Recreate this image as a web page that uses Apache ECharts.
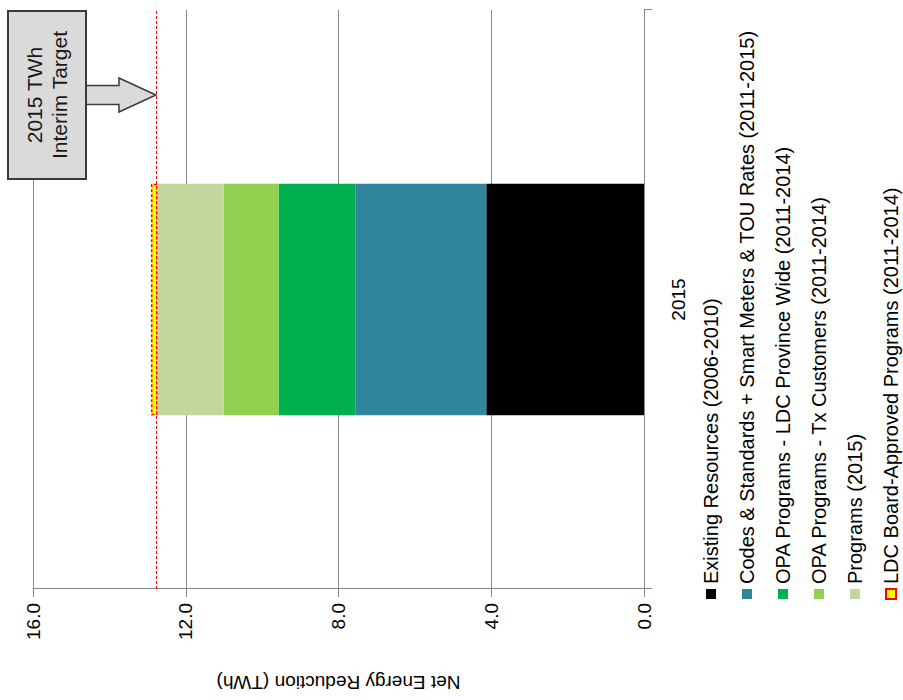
<!DOCTYPE html>
<html>
<head>
<meta charset="utf-8">
<script src="https://cdn.jsdelivr.net/npm/echarts@6/dist/echarts.min.js"></script>
<style>
html,body{margin:0;padding:0;overflow:hidden;width:903px;height:700px;background:#fff}
#c{position:absolute;left:0;top:0;width:700px;height:903px;transform-origin:0 0;transform:translateY(700px) rotate(-90deg);background:#fff}
</style>
</head>
<body>
<div id="c"></div>
<script>
// ---- data ----
const categories = ['2015'];
const seriesNames = [
  'Existing Resources (2006-2010)',
  'Codes & Standards + Smart Meters & TOU Rates (2011-2015)',
  'OPA Programs - LDC Province Wide (2011-2014)',
  'OPA Programs - Tx Customers (2011-2014)',
  'Programs (2015)',
  'LDC Board-Approved Programs (2011-2014)'
];
const existingResources = [4.13];
const codesStandards = [3.43];
const opaLdcProvinceWide = [2.01];
const opaTxCustomers = [1.44];
const programs2015 = [1.73];
const ldcBoardApproved = [0.17];
const interimTarget = 12.78;
const valueMin = 0, valueMax = 16, valueInterval = 4;
const axisTitle = 'Net Energy Reduction (TWh)';
const annotationText = '2015 TWh\nInterim Target';

// ---- styles ----
const FONT = '"Liberation Sans", Arial, sans-serif';
const colors = ['#000000', '#31859C', '#00B050', '#92D050', '#C3D69B', '#FFFF00'];
const seriesData = [existingResources, codesStandards, opaLdcProvinceWide, opaTxCustomers, programs2015, ldcBoardApproved];

const chart = echarts.init(document.getElementById('c'), null, {renderer: 'svg'});

const series = seriesNames.map((name, i) => {
  const s = {
    name: name,
    type: 'bar',
    stack: 'total',
    barWidth: '40%',
    data: seriesData[i],
    itemStyle: {color: colors[i]},
    emphasis: {disabled: true}
  };
  if (i === 5) {
    s.itemStyle = {color: colors[i], borderColor: '#FF0000', borderWidth: 1.5, borderType: [3, 2]};
  }
  if (i === 0) {
    s.markLine = {
      silent: true,
      symbol: ['none', 'none'],
      label: {show: false},
      lineStyle: {color: '#FF0000', type: [3, 2], width: 1},
      data: [{yAxis: interimTarget}]
    };
  }
  return s;
});

chart.setOption({
  animation: false,
  backgroundColor: '#fff',
  textStyle: {fontFamily: FONT},
  grid: {left: 97, right: 10, top: 33, bottom: 259, containLabel: false},
  legend: {
    orient: 'vertical',
    left: 100,
    top: 701,
    height: 230,
    padding: 0,
    itemWidth: 10,
    itemHeight: 10,
    itemGap: 16,
    icon: 'rect',
    data: seriesNames,
    textStyle: {fontSize: 20, color: '#000', fontFamily: FONT},
    selectedMode: false
  },
  xAxis: {
    type: 'category',
    data: categories,
    boundaryGap: true,
    axisLine: {show: true, lineStyle: {color: '#888', width: 1}},
    axisTick: {show: true, length: 8, lineStyle: {color: '#888'}},
    axisLabel: {fontSize: 19, color: '#000', margin: 25, fontFamily: FONT},
    splitLine: {show: false}
  },
  yAxis: {
    type: 'value',
    min: valueMin,
    max: valueMax,
    interval: valueInterval,
    name: axisTitle,
    nameLocation: 'middle',
    nameRotate: 90,
    nameGap: 84,
    nameTextStyle: {fontSize: 19, color: '#000', fontFamily: FONT},
    axisLine: {show: true, lineStyle: {color: '#888', width: 1}},
    axisTick: {show: true, length: 8, lineStyle: {color: '#888'}},
    axisLabel: {fontSize: 19, color: '#000', margin: 14, fontFamily: FONT, formatter: v => v.toFixed(1)},
    splitLine: {show: true, lineStyle: {color: '#888', width: 1}}
  },
  series: series
});

// ---- annotation box with arrow pointing at the target line ----
const tipV = chart.convertToPixel({yAxisIndex: 0}, interimTarget);
const boxL = 521, boxT = 8, boxW = 168, boxH = 78;
const cu = boxL + boxW / 2;
const shaftHalf = 9.5, headHalf = 17, headBase = tipV - 37;
chart.setOption({
  graphic: [
    {
      type: 'polygon',
      shape: {points: [
        [cu - shaftHalf, boxT + boxH - 2], [cu - shaftHalf, headBase], [cu - headHalf, headBase],
        [cu, tipV], [cu + headHalf, headBase], [cu + shaftHalf, headBase], [cu + shaftHalf, boxT + boxH - 2]
      ]},
      style: {fill: '#DADADA', stroke: '#3a3a3a', lineWidth: 1.5},
      z: 100
    },
    {
      type: 'rect',
      shape: {x: boxL, y: boxT, width: boxW, height: boxH},
      style: {fill: '#DADADA', stroke: '#3a3a3a', lineWidth: 2},
      z: 101
    },
    {
      type: 'text',
      x: cu,
      y: boxT + boxH / 2,
      style: {
        text: annotationText,
        font: '21px ' + FONT,
        fill: '#1a1a1a',
        align: 'center',
        verticalAlign: 'middle',
        lineHeight: 25
      },
      z: 102
    }
  ]
});
</script>
</body>
</html>
